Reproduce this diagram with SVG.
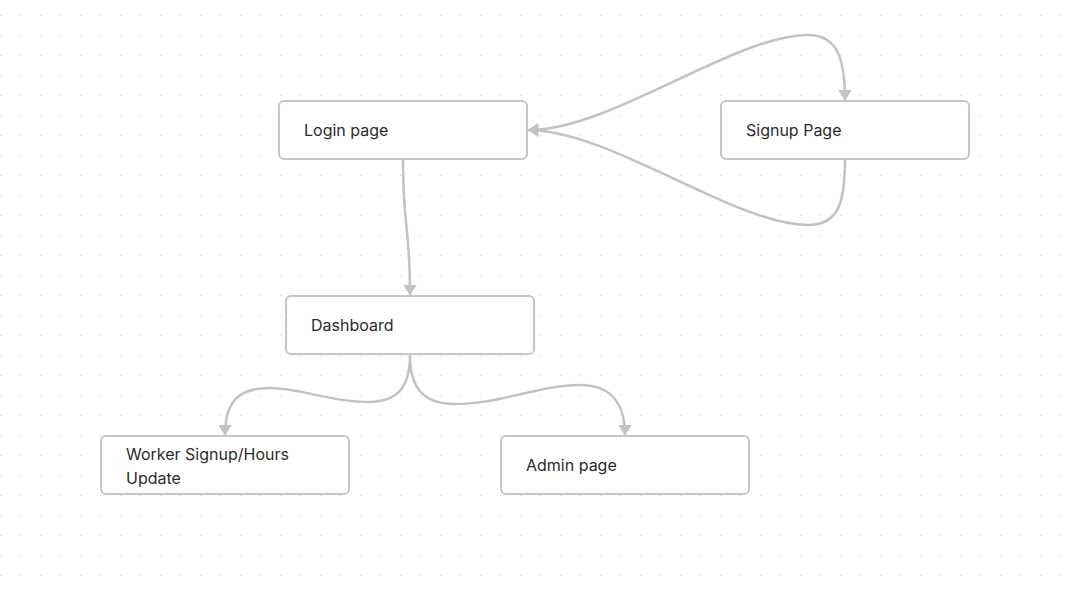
<svg xmlns="http://www.w3.org/2000/svg" width="1070" height="595" viewBox="0 0 1070 595">
<style>
.node rect{fill:#fff;stroke:#c6c6c6;stroke-width:2}
.node text{font-family:Inter,"Noto Sans","Liberation Sans",sans-serif;font-size:16px;fill:#2b2b2b}
.edge{fill:none;stroke:#c2c2c2;stroke-width:2.5}
</style>
<defs>
<pattern id="dots" x="0" y="15" width="20" height="20" patternUnits="userSpaceOnUse">
<rect x="0" y="0" width="1" height="1" fill="#d4d4d4"/>
</pattern>
<marker id="arr" viewBox="0 0 11 14" refX="10.5" refY="7" markerWidth="11" markerHeight="14" markerUnits="userSpaceOnUse" orient="auto">
<path d="M0,0 L11,7 L0,14 Z" fill="#c2c2c2"/>
</marker>
</defs>
<rect width="1070" height="595" fill="#fff"/>
<rect width="1070" height="595" fill="url(#dots)"/>
<g id="connectors">
<path class="edge" marker-end="url(#arr)" d="M403,160 C403,230 410,225 410,295"/>
<path class="edge" marker-end="url(#arr)" d="M530,130 C610,130 735,35 808,35 C838,35 845,60 845,100"/>
<path class="edge" marker-end="url(#arr)" d="M845,159 C845,200 840,225 808,225 C735,225 610,130 528,130"/>
<path class="edge" marker-end="url(#arr)" d="M410,355 C410,390 395,402 368,402 C330,402 300,388 270,388 C240,388 225,400 225,435"/>
<path class="edge" marker-end="url(#arr)" d="M410,355 C410,390 425,404 455,404 C500,404 540,385 580,385 C612,385 625,405 625,435"/>
</g>
<g id="login" class="node"><rect x="279" y="101" width="248" height="58" rx="5"/><text x="304" y="136">Login page</text></g>
<g id="signup" class="node"><rect x="721" y="101" width="248" height="58" rx="5"/><text x="746" y="136">Signup Page</text></g>
<g id="dashboard" class="node"><rect x="286" y="296" width="248" height="58" rx="5"/><text x="311" y="331">Dashboard</text></g>
<g id="worker" class="node"><rect x="101" y="436" width="248" height="58" rx="5"/><text x="126" y="460">Worker Signup/Hours</text><text x="126" y="484">Update</text></g>
<g id="admin" class="node"><rect x="501" y="436" width="248" height="58" rx="5"/><text x="526" y="471">Admin page</text></g>
</svg>
